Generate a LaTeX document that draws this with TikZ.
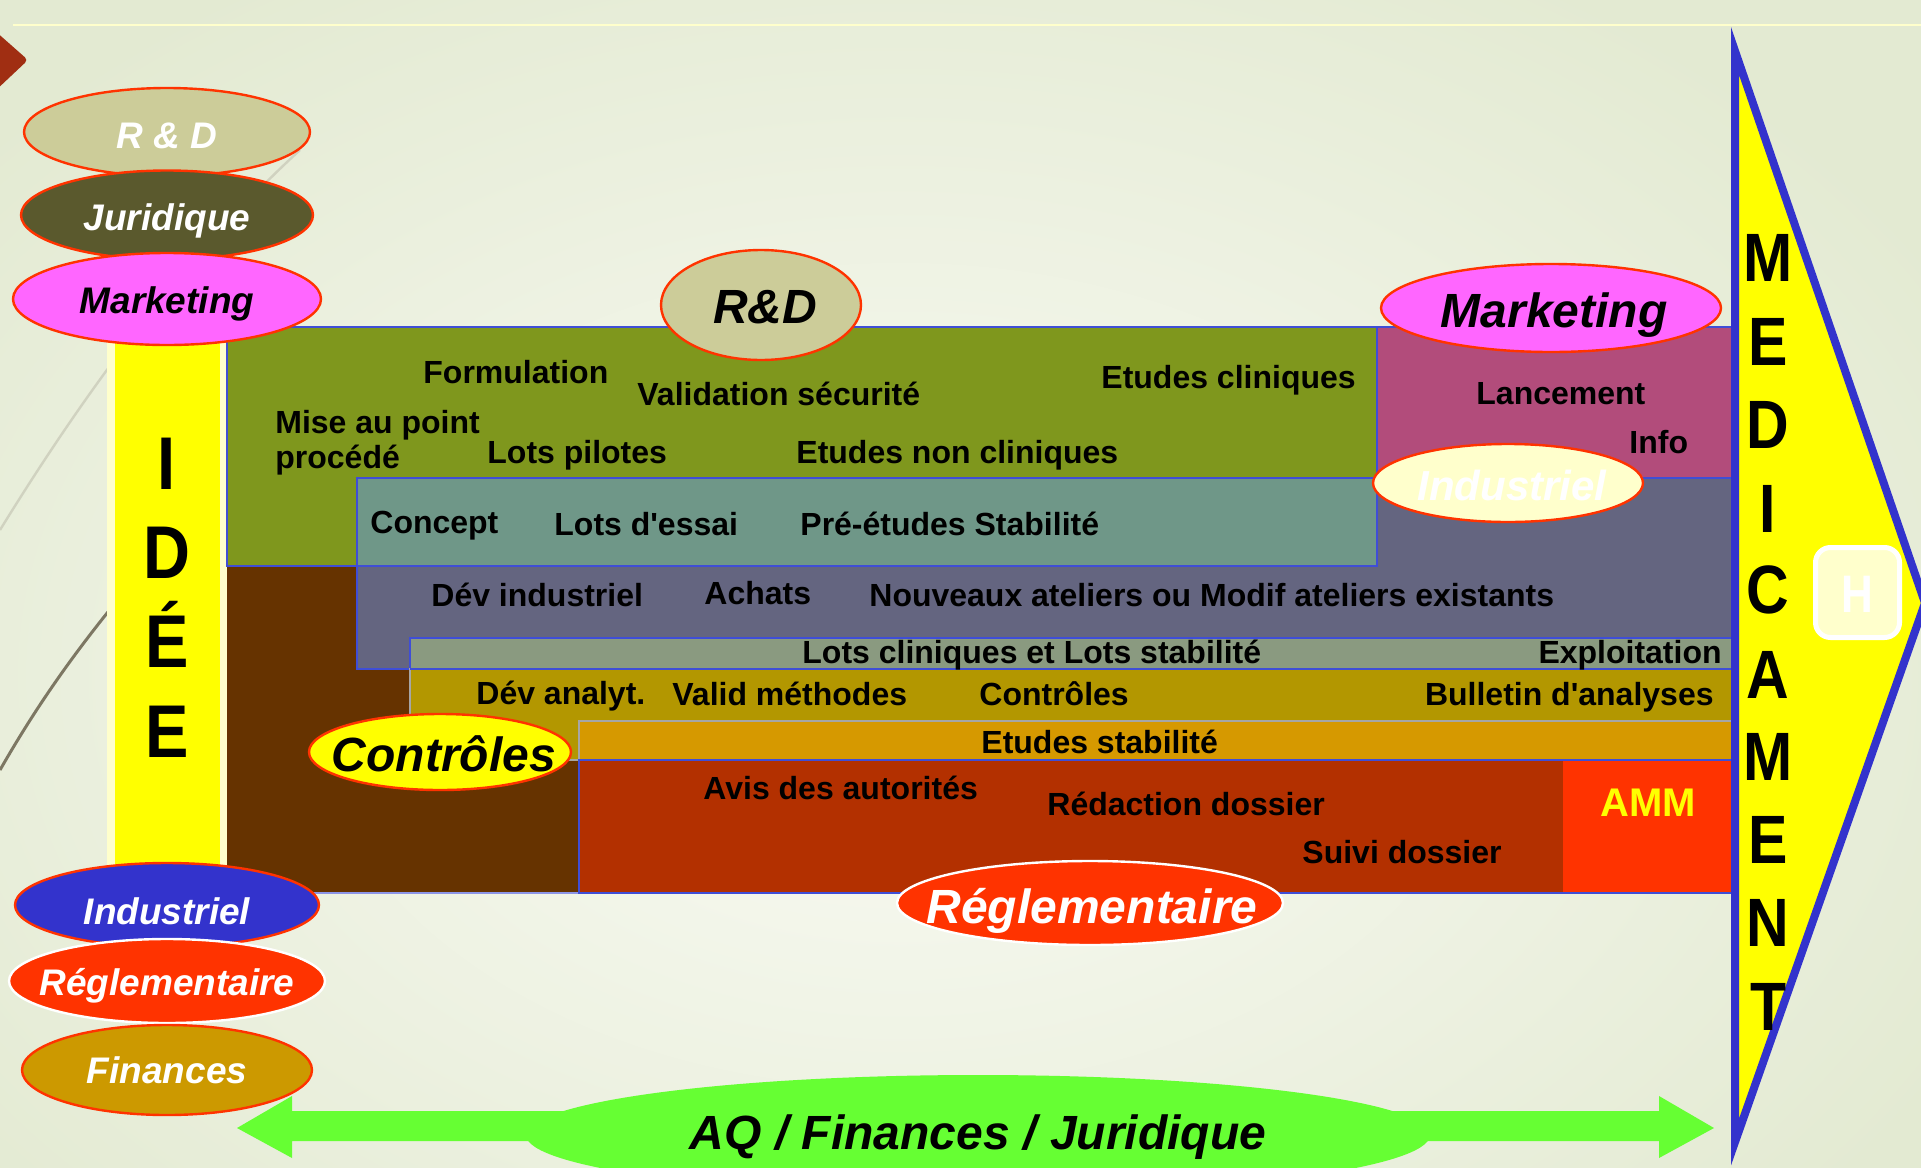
\documentclass[tikz,border=0pt]{standalone}
\usepackage{fontspec}
\setmainfont{Liberation Sans}
\usetikzlibrary{shapes.geometric,calc}
\definecolor{bgout}{HTML}{E3EAD2}
\definecolor{bgin}{HTML}{FAFBF5}
\definecolor{decored}{HTML}{A02E12}
\definecolor{paleyel}{HTML}{FFFFCC}
\definecolor{edgeblue}{HTML}{3F4ED6}
\definecolor{triblue}{HTML}{3333CC}
\definecolor{olivebk}{HTML}{7F971D}
\definecolor{tealbk}{HTML}{6F9788}
\definecolor{pinkbk}{HTML}{B24C7B}
\definecolor{slatebk}{HTML}{646580}
\definecolor{brownbk}{HTML}{663300}
\definecolor{lotsbk}{HTML}{8A9A80}
\definecolor{goldbk}{HTML}{B39700}
\definecolor{orangebk}{HTML}{D69900}
\definecolor{redbk}{HTML}{B33000}
\definecolor{ammbk}{HTML}{FF3300}
\definecolor{khaki}{HTML}{CCCC99}
\definecolor{darkolive}{HTML}{5A592D}
\definecolor{magentaov}{HTML}{FF66FF}
\definecolor{blueov}{HTML}{3333CC}
\definecolor{redov}{HTML}{FF3300}
\definecolor{financeov}{HTML}{CC9900}
\definecolor{greenaq}{HTML}{66FF33}
\definecolor{ovalred}{HTML}{FF3300}
\definecolor{lightcurve}{HTML}{D0D2C0}
\definecolor{darkcurve}{HTML}{7D7763}
\definecolor{pureyellow}{HTML}{FFFF00}
\newcommand\vtall[2][1.15]{\scalebox{1}[#1]{#2}}
\begin{document}
\begin{tikzpicture}[x=0.5pt,y=-0.5pt,
  blk/.style={draw=edgeblue,line width=1pt},
  lbl/.style={inner sep=0pt,anchor=base west,font=\fontsize{16}{19}\selectfont\bfseries},
  lblr/.style={lbl,anchor=base east},
  oval/.style={ellipse,draw=ovalred,line width=1.2pt,inner sep=0pt},
  ovtxt/.style={inner sep=0pt,anchor=base,font=\fontsize{18.5}{22}\selectfont\bfseries\itshape},
  bigtxt/.style={inner sep=0pt,anchor=base,font=\fontsize{24}{28}\selectfont\bfseries\itshape},
  idee/.style={inner sep=0pt,anchor=base,font=\fontsize{32.5}{34}\selectfont\bfseries},
  medic/.style={inner sep=0pt,anchor=base,font=\fontsize{29.5}{31}\selectfont\bfseries}]
\useasboundingbox (0,0) rectangle (1921,1167);
% background
\fill[bgout] (0,0) rectangle (1921,1167);
\shade[inner color=bgin,outer color=bgout] (-300,-150) rectangle (2100,1500);
% theme decorations
\draw[lightcurve,line width=1.2pt] (0,530) .. controls (80,400) and (180,260) .. (300,150);
\draw[darkcurve,line width=1.5pt] (0,770) .. controls (40,700) and (80,645) .. (130,585);
\draw[paleyel,line width=1pt] (13,25) -- (1921,25);
\fill[decored,rounded corners=2pt] (-6,30) -- (28,60) -- (-6,92) -- cycle;
% IDEE column
\fill[paleyel] (107,330) rectangle (228,866);
\fill[pureyellow] (115,330) rectangle (220,866);
% process blocks
\fill[brownbk] (227,566) rectangle (1733,893);
\draw[edgeblue!60,line width=1pt] (227,893) -- (1733,893);
\filldraw[blk,fill=olivebk] (227,327) rectangle (1377,566);
\filldraw[blk,fill=pinkbk] (1377,327) rectangle (1733,478);
\filldraw[blk,fill=slatebk] (357,478) rectangle (1733,669);
\filldraw[blk,fill=tealbk] (357,478) rectangle (1377,566);
\filldraw[blk,fill=lotsbk] (410,638) rectangle (1733,669);
\filldraw[draw=gray!70,line width=1pt,fill=goldbk] (410,669) rectangle (1733,760);
\draw[edgeblue,line width=1pt] (410,669) -- (1733,669);
\filldraw[draw=gray!70,line width=1pt,fill=orangebk] (579,721) rectangle (1733,760);
\filldraw[blk,fill=redbk] (579,760) rectangle (1733,893);
\fill[ammbk] (1563,761) rectangle (1732,892);
% MEDICAMENT arrow head
\filldraw[draw=triblue,fill=pureyellow,line width=4pt,line join=miter,miter limit=10] (1735,51) -- (1925,603) -- (1735,1142) -- cycle;
\node[draw=white,line width=2.5pt,fill=paleyel,rounded corners=7.5pt,minimum width=42pt,minimum height=45pt,inner sep=0pt] (hbox) at (1857.5,592.5) {};
\node[inner sep=0pt,anchor=base,text=white,font=\fontsize{22}{24}\selectfont\bfseries] (hlet) at ($(hbox.center)+(0,20)$) {\vtall[1.2]{H}};
% AQ band
\coordinate (arrL) at (237,1128);
\coordinate (arrR) at (1714,1128);
\node[ellipse,fill=greenaq,minimum width=452pt,minimum height=60pt,inner sep=0pt] (aqov) at (978,1135) {};
\fill[greenaq] (arrL) -- ($(arrL)+(55,-32)$) -- ($(arrL)+(55,-17)$) -- ($(arrR)+(-55,-17)$) -- ($(arrR)+(-55,-32)$) -- (arrR)
  -- ($(arrR)+(-55,30)$) -- ($(arrR)+(-55,13)$) -- ($(arrL)+(55,13)$) -- ($(arrL)+(55,30)$) -- cycle;
\node[bigtxt] (aqtxt) at (978,1149) {AQ / Finances / Juridique};
% texts inside the blocks
\node[lbl] (t1) at (423,383) {Formulation};
\node[lbl] (t2) at (637,405) {Validation sécurité};
\node[lbl] (t3) at (1101,388) {Etudes cliniques};
\node[lbl] (t4) at (275,433) {Mise au point};
\node[lbl] (t5) at (275,468) {procédé};
\node[lbl] (t6) at (487,463) {Lots pilotes};
\node[lbl] (t7) at (796,463) {Etudes non cliniques};
\node[lbl] (t8) at (370,533) {Concept};
\node[lbl] (t9) at (554,535) {Lots d\textquotesingle essai};
\node[lbl] (t10) at (800,535) {Pré-études Stabilité};
\node[lbl] (t11) at (431,606) {Dév industriel};
\node[lbl] (t12) at (704,604) {Achats};
\node[lbl] (t13) at (869,606) {Nouveaux ateliers ou Modif ateliers existants};
\node[lbl] (t14) at (802,663) {Lots cliniques et Lots stabilité};
\node[lblr] (t15) at (1722,663) {Exploitation};
\node[lbl] (t16) at (476,704) {Dév analyt.};
\node[lbl] (t17) at (672,705) {Valid méthodes};
\node[lbl] (t18) at (979,705) {Contrôles};
\node[lblr] (t19) at (1714,705) {Bulletin d\textquotesingle analyses};
\node[lbl] (t20) at (981,753) {Etudes stabilité};
\node[lbl] (t21) at (703,799) {Avis des autorités};
\node[lbl] (t22) at (1047,815) {Rédaction dossier};
\node[lbl] (t23) at (1302,863) {Suivi dossier};
\node[lbl] (t24) at (1476,404) {Lancement};
\node[lbl] (t25) at (1629,453) {Info};
\node[inner sep=0pt,anchor=base,text=pureyellow,font=\fontsize{20}{22}\selectfont\bfseries] (amm) at (1648,816) {AMM};
% IDEE letters
\node[idee] (i1) at (167,489) {\vtall{I}};
\node[idee] (i2) at (167,578) {\vtall{D}};
\node[idee] (i3) at (167,667) {\vtall{É}};
\node[idee] (i4) at (167,757) {\vtall{E}};
% MEDICAMENT letters
\node[medic] (m1) at (1768,281) {\vtall[1.16]{M}};
\node[medic] (m2) at (1768,365) {\vtall[1.16]{E}};
\node[medic] (m3) at (1768,448) {\vtall[1.16]{D}};
\node[medic] (m4) at (1768,532) {\vtall[1.16]{I}};
\node[medic] (m5) at (1768,613) {\vtall[1.16]{C}};
\node[medic] (m6) at (1768,698) {\vtall[1.16]{A}};
\node[medic] (m7) at (1768,780) {\vtall[1.16]{M}};
\node[medic] (m8) at (1768,863) {\vtall[1.16]{E}};
\node[medic] (m9) at (1768,946) {\vtall[1.16]{N}};
\node[medic] (m10) at (1768,1030) {\vtall[1.16]{T}};
% department ovals, left column
\node[oval,fill=khaki,minimum width=143pt,minimum height=44pt] (oRDl) at (167,132) {};
\node[ovtxt,text=white] at (167,148) {R \& D};
\node[oval,fill=darkolive,minimum width=146pt,minimum height=44.5pt] (oJur) at (167,215) {};
\node[ovtxt,text=white] at (167,230) {Juridique};
\node[oval,fill=magentaov,minimum width=154pt,minimum height=46pt] (oMktl) at (167,299) {};
\node[ovtxt,text=black] at (167,313) {Marketing};
\node[oval,fill=blueov,minimum width=152pt,minimum height=42pt] (oIndl) at (167,905) {};
\node[ovtxt,text=white] at (167,924) {Industriel};
\node[oval,draw=white,fill=redov,minimum width=158pt,minimum height=42pt] (oRegl) at (167,981) {};
\node[ovtxt,text=white] at (167,995) {Réglementaire};
\node[oval,fill=financeov,minimum width=145pt,minimum height=45pt] (oFin) at (167,1070) {};
\node[ovtxt,text=white] at (167,1083) {Finances};
% department ovals on the blocks
\node[oval,fill=khaki,minimum width=100pt,minimum height=55pt] (oRDc) at (761,305) {};
\node[bigtxt,text=black] at (765,323) {R\&D};
\node[oval,fill=magentaov,minimum width=170pt,minimum height=44pt] (oMktr) at (1551,308) {};
\node[bigtxt,text=black] at (1554,327) {Marketing};
\node[oval,fill=paleyel,minimum width=135pt,minimum height=39pt] (oIndr) at (1508,483) {};
\node[inner sep=0pt,anchor=base,text=white,font=\fontsize{21}{24}\selectfont\bfseries\itshape] at (1512,500) {Industriel};
\node[oval,fill=pureyellow,minimum width=131pt,minimum height=38pt] (oCtl) at (440,752) {};
\node[bigtxt,text=black] at (444,771) {Contrôles};
\node[oval,draw=white,fill=redov,minimum width=193pt,minimum height=42pt] (oRegc) at (1090,903) {};
\node[bigtxt,text=white] at (1092,923) {Réglementaire};
\end{tikzpicture}
\end{document}
